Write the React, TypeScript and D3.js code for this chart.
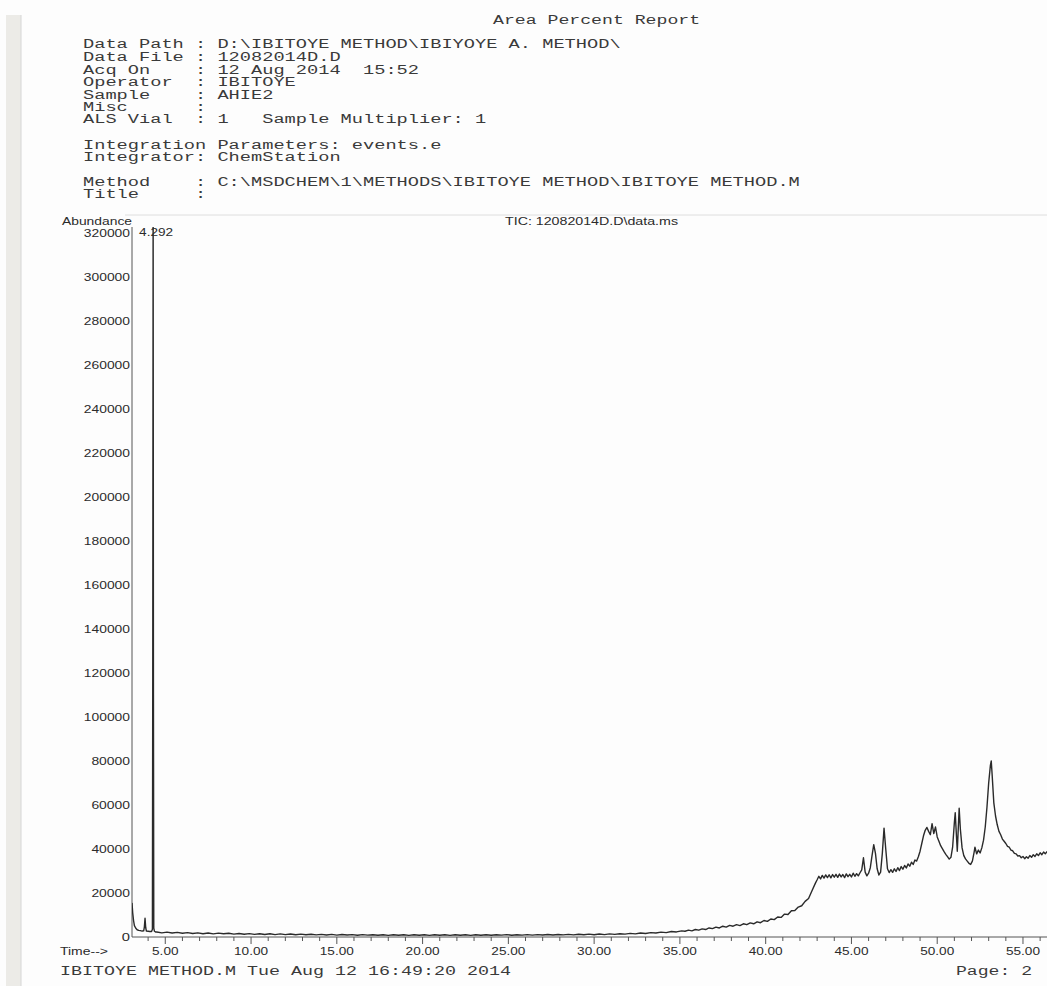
import React from "react";
import * as d3 from "d3";

// ---- Chart data ----
const headerTitle = "Area Percent Report";
const headerLines: [number, string][] = [
  [44, "Data Path : D:\\IBITOYE METHOD\\IBIYOYE A. METHOD\\"],
  [57, "Data File : 12082014D.D"],
  [70, "Acq On    : 12 Aug 2014  15:52"],
  [82, "Operator  : IBITOYE"],
  [95, "Sample    : AHIE2"],
  [107, "Misc      :"],
  [119, "ALS Vial  : 1   Sample Multiplier: 1"],
  [145, "Integration Parameters: events.e"],
  [157, "Integrator: ChemStation"],
  [182, "Method    : C:\\MSDCHEM\\1\\METHODS\\IBITOYE METHOD\\IBITOYE METHOD.M"],
  [194, "Title     :"],
];
const footerLeft = "IBITOYE METHOD.M Tue Aug 12 16:49:20 2014";
const footerRight = "Page: 2";
const chartTitle = "TIC: 12082014D.D\\data.ms";
const yAxisTitle = "Abundance";
const xAxisTitle = "Time-->";
const peakLabel = "4.292";
const peakTime = 4.292;

const yTickValues = [0, 20000, 40000, 60000, 80000, 100000, 120000, 140000, 160000, 180000, 200000, 220000, 240000, 260000, 280000, 300000, 320000];
const xTickValues = [5, 10, 15, 20, 25, 30, 35, 40, 45, 50, 55];
const xTickLabels = ["5.00", "10.00", "15.00", "20.00", "25.00", "30.00", "35.00", "40.00", "45.00", "50.00", "55.00"];

// [retention time (min), abundance]
const ticEarly: [number, number][] = [
  [3.06, 15500], [3.1, 11000], [3.15, 7500], [3.2, 5200], [3.28, 4000], [3.36, 3300], [3.45, 3000],
  [3.55, 2900], [3.65, 2700], [3.74, 2800], [3.78, 4500], [3.82, 8500], [3.86, 4200], [3.9, 2700],
  [4.0, 2600], [4.1, 2500], [4.2, 2500], [4.25, 3500], [4.27, 120000], [4.292, 335000], [4.31, 110000],
  [4.33, 4000], [4.37, 2600], [4.45, 2200],
];
const ticBaseline: [number, number][] = [
  [4.5, 2300], [4.8, 1900], [5.1, 2200], [5.4, 1800], [5.7, 2100], [6.0, 1700], [6.3, 2000], [6.6, 1600],
  [6.9, 1900], [7.2, 1500], [7.5, 1800], [7.8, 1400], [8.1, 1750], [8.4, 1450], [8.7, 1700], [9.0, 1300],
  [9.3, 1600], [9.6, 1250], [9.9, 1550], [10.2, 1200], [10.5, 1500], [10.8, 1150], [11.1, 1450], [11.4, 1100],
  [11.7, 1400], [12.0, 1100], [12.3, 1350], [12.6, 1000], [12.9, 1300], [13.2, 1000], [13.5, 1250], [13.8, 950],
  [14.1, 1200], [14.4, 900], [14.7, 1200], [15.0, 850], [15.3, 1150], [15.6, 900], [15.9, 1100], [16.2, 800],
  [16.5, 1100], [16.8, 850], [17.1, 1050], [17.4, 800], [17.7, 1050], [18.0, 750], [18.3, 1000], [18.6, 800],
  [18.9, 1050], [19.2, 750], [19.5, 1000], [19.8, 800], [20.1, 1000], [20.4, 750], [20.7, 1050], [21.0, 800],
  [21.3, 1000], [21.6, 750], [21.9, 1000], [22.2, 800], [22.5, 1050], [22.8, 750], [23.1, 1000], [23.4, 800],
  [23.7, 1050], [24.0, 800], [24.3, 1000], [24.6, 850], [24.9, 1100], [25.2, 800], [25.5, 1050], [25.8, 850],
  [26.1, 1100], [26.4, 850], [26.7, 1100], [27.0, 900], [27.3, 1150], [27.6, 900], [27.9, 1150], [28.2, 950],
  [28.5, 1200], [28.8, 950], [29.1, 1250], [29.4, 1000], [29.7, 1300], [30.0, 1050], [30.3, 1350], [30.6, 1100],
  [30.9, 1400], [31.2, 1200], [31.5, 1500], [31.8, 1300], [32.1, 1650], [32.4, 1400], [32.7, 1800], [33.0, 1600],
  [33.3, 2000], [33.6, 1800], [33.9, 2200], [34.2, 2000], [34.5, 2500], [34.8, 2300], [35.1, 2800],
];
const ticRise: [number, number][] = [
  [35.3, 2600], [35.5, 3100], [35.7, 2800], [35.9, 3400], [36.1, 3100], [36.3, 3700], [36.5, 3400], [36.7, 4100],
  [36.9, 3800], [37.1, 4500], [37.3, 4100], [37.5, 4900], [37.7, 4500], [37.9, 5300], [38.1, 4900], [38.3, 5600],
  [38.5, 5200], [38.7, 6000], [38.9, 5600], [39.1, 6400], [39.3, 6000], [39.5, 6900], [39.7, 6500], [39.9, 7500],
  [40.1, 7100], [40.3, 8200], [40.5, 7900], [40.7, 9100], [40.9, 8900], [41.1, 10400], [41.3, 10200], [41.5, 11900],
  [41.7, 12000], [41.9, 13600], [42.1, 14200], [42.3, 16200], [42.5, 17500], [42.7, 21000], [42.9, 24500], [43.0, 26000],
];
const ticLate: [number, number][] = [
  [43.1, 27600], [43.2, 26400], [43.3, 28000], [43.4, 26800], [43.5, 28200], [43.6, 27000], [43.7, 28300], [43.8, 26900],
  [43.9, 28400], [44.0, 27200], [44.1, 28500], [44.2, 27100], [44.3, 28600], [44.4, 27300], [44.5, 28400], [44.6, 27000],
  [44.7, 28700], [44.8, 27400], [44.9, 28500], [45.0, 27300], [45.1, 29000], [45.2, 27600], [45.3, 28800], [45.4, 27800],
  [45.5, 29200], [45.6, 30500], [45.7, 36000], [45.8, 29500], [45.9, 27800], [46.0, 29000], [46.1, 31500], [46.2, 37000],
  [46.3, 42000], [46.4, 38000], [46.5, 31000], [46.6, 28200], [46.7, 29500], [46.8, 38000], [46.9, 49500], [47.0, 40000],
  [47.1, 31000], [47.2, 29300], [47.3, 30600], [47.4, 29400], [47.5, 31000], [47.6, 29800], [47.7, 31500], [47.8, 30200],
  [47.9, 32000], [48.0, 30800], [48.1, 32500], [48.2, 31400], [48.3, 33200], [48.4, 32200], [48.5, 34000], [48.6, 33000],
  [48.7, 35000], [48.8, 34500], [48.9, 36500], [49.0, 39000], [49.1, 42500], [49.2, 46000], [49.3, 48500], [49.4, 49800],
  [49.5, 48000], [49.6, 46500], [49.7, 51500], [49.8, 47000], [49.9, 50000], [50.0, 45500], [50.1, 43500], [50.2, 41500],
  [50.3, 40200], [50.4, 38800], [50.5, 37600], [50.6, 36500], [50.7, 35400], [50.8, 36200], [50.9, 41000], [51.0, 52000],
  [51.05, 56500], [51.12, 46000], [51.17, 39000], [51.22, 48000], [51.28, 58500], [51.35, 49000], [51.45, 40500], [51.55, 37000],
  [51.65, 35500], [51.75, 34500], [51.85, 33500], [51.95, 33000], [52.05, 34500], [52.15, 38500], [52.2, 40800], [52.3, 37800],
  [52.4, 39500], [52.5, 38200], [52.6, 40500], [52.7, 44000], [52.8, 50000], [52.9, 59000], [53.0, 70000], [53.1, 78000],
  [53.15, 80000], [53.2, 74000], [53.3, 61000], [53.4, 55000], [53.5, 51000], [53.6, 48000], [53.7, 46500], [53.8, 44500],
  [53.9, 43500], [54.0, 42500], [54.1, 41200], [54.2, 40800], [54.3, 39500], [54.4, 39200], [54.5, 38000], [54.6, 37800],
  [54.7, 36800], [54.8, 37000], [54.9, 36000], [55.0, 36600], [55.1, 35600], [55.2, 36500], [55.3, 35800], [55.4, 37000],
  [55.5, 36200], [55.6, 37400], [55.7, 36600], [55.8, 37800], [55.9, 37000], [56.0, 38300], [56.1, 37400], [56.2, 38600],
  [56.3, 37800], [56.4, 38800], [56.5, 38000],
];

const W = 1047;
const H = 986;
const plotLeft = 132;
const plotRight = 1047;
const plotTop = 227;
const plotBottom = 937;

const MONO = "'Liberation Mono', 'DejaVu Sans Mono', monospace";
const SANS = "'Liberation Sans', Arial, sans-serif";
const MONO_CW = 11.2;
const MONO_FS = 12;

function sansWidth(s: string): number {
  let w = 0;
  for (const c of s) {
    if (c === "." || c === ":" || c === "\\") w += 3.6;
    else if (c === " ") w += 3.6;
    else if (c === "-") w += 4.6;
    else if (c === ">") w += 7.2;
    else w += 7.6;
  }
  return w;
}

export default function App() {
  const x = d3.scaleLinear().domain([3.06, 56.4]).range([plotLeft, plotRight]);
  const y = d3.scaleLinear().domain([0, 320000]).range([plotBottom, 233]);
  const all = [...ticEarly, ...ticBaseline, ...ticRise, ...ticLate];
  const line = d3
    .line<[number, number]>()
    .x((d) => x(d[0]))
    .y((d) => y(d[1]));
  const minorTicks = d3.range(4, 57);
  const ink = "#2b2b2b";
  const monoInk = "#3a3a3a";

  return (
    <svg
      width={W}
      height={H}
      viewBox={`0 0 ${W} ${H}`}
      style={{ position: "absolute", left: 0, top: 0, display: "block", background: "#fdfdfd" }}
    >
      <rect x={0} y={0} width={W} height={H} fill="#fdfdfd" />
      {/* scanned page edge */}
      <rect x={6} y={15} width={15} height={H - 15} fill="#ecebe7" />
      <line x1={21} y1={15} x2={21} y2={H} stroke="#d6d6d6" strokeWidth={1} />
      <line x1={125} y1={215} x2={W} y2={215} stroke="#dedede" strokeWidth={1} />

      {/* header */}
      <text
        x={493}
        y={24}
        fontFamily={MONO}
        fontSize={MONO_FS}
        fill={monoInk}
        textLength={headerTitle.length * 10.9}
        lengthAdjust="spacingAndGlyphs"
        style={{ whiteSpace: "pre" }}
      >
        {headerTitle}
      </text>
      {headerLines.map(([yy, s], i) => (
        <text
          key={i}
          x={83}
          y={yy + 4}
          fontFamily={MONO}
          fontSize={MONO_FS}
          fill={monoInk}
          textLength={s.length * MONO_CW}
          lengthAdjust="spacingAndGlyphs"
          style={{ whiteSpace: "pre" }}
        >
          {s}
        </text>
      ))}

      {/* chart titles */}
      <text x={62} y={225} fontFamily={SANS} fontSize={11} fill={ink} textLength={70} lengthAdjust="spacingAndGlyphs">
        {yAxisTitle}
      </text>
      <text x={505} y={225} fontFamily={SANS} fontSize={11} fill={ink} textLength={173} lengthAdjust="spacingAndGlyphs">
        {chartTitle}
      </text>

      {/* y axis */}
      <line x1={plotLeft} y1={plotTop} x2={plotLeft} y2={plotBottom} stroke="#555" strokeWidth={1} />
      {yTickValues.map((v) => {
        const s = String(v);
        return (
          <text
            key={v}
            x={130}
            y={y(v) + 4}
            textAnchor="end"
            fontFamily={SANS}
            fontSize={11}
            fill={ink}
            textLength={sansWidth(s) + 0.6}
            lengthAdjust="spacingAndGlyphs"
          >
            {s}
          </text>
        );
      })}

      {/* x axis */}
      <line x1={plotLeft} y1={plotBottom} x2={plotRight} y2={plotBottom} stroke="#555" strokeWidth={1} />
      {minorTicks.map((t) => (
        <line key={t} x1={x(t)} y1={plotBottom} x2={x(t)} y2={plotBottom + (t % 5 === 0 ? 7 : 4)} stroke="#555" strokeWidth={1} />
      ))}
      {xTickValues.map((t, i) => (
        <text
          key={t}
          x={x(t)}
          y={955}
          textAnchor="middle"
          fontFamily={SANS}
          fontSize={11}
          fill={ink}
          textLength={sansWidth(xTickLabels[i])}
          lengthAdjust="spacingAndGlyphs"
        >
          {xTickLabels[i]}
        </text>
      ))}
      <text x={60} y={955} fontFamily={SANS} fontSize={11} fill={ink} textLength={48} lengthAdjust="spacingAndGlyphs">
        {xAxisTitle}
      </text>

      {/* trace */}
      <defs>
        <clipPath id="plotClip">
          <rect x={plotLeft} y={plotTop} width={plotRight - plotLeft} height={plotBottom - plotTop + 1} />
        </clipPath>
      </defs>
      <path d={line(all) || ""} fill="none" stroke="#2a2a2a" strokeWidth={1.4} strokeLinejoin="round" clipPath="url(#plotClip)" />

      {/* peak label */}
      <text
        x={x(peakTime) - 14}
        y={236}
        fontFamily={SANS}
        fontSize={11}
        fill={ink}
        textLength={sansWidth(peakLabel)}
        lengthAdjust="spacingAndGlyphs"
      >
        {peakLabel}
      </text>

      {/* footer */}
      <text
        x={60}
        y={975}
        fontFamily={MONO}
        fontSize={MONO_FS}
        fill={monoInk}
        textLength={footerLeft.length * 11.0}
        lengthAdjust="spacingAndGlyphs"
        style={{ whiteSpace: "pre" }}
      >
        {footerLeft}
      </text>
      <text
        x={956}
        y={975}
        fontFamily={MONO}
        fontSize={MONO_FS}
        fill={monoInk}
        textLength={76}
        lengthAdjust="spacingAndGlyphs"
        style={{ whiteSpace: "pre" }}
      >
        {footerRight}
      </text>
    </svg>
  );
}
